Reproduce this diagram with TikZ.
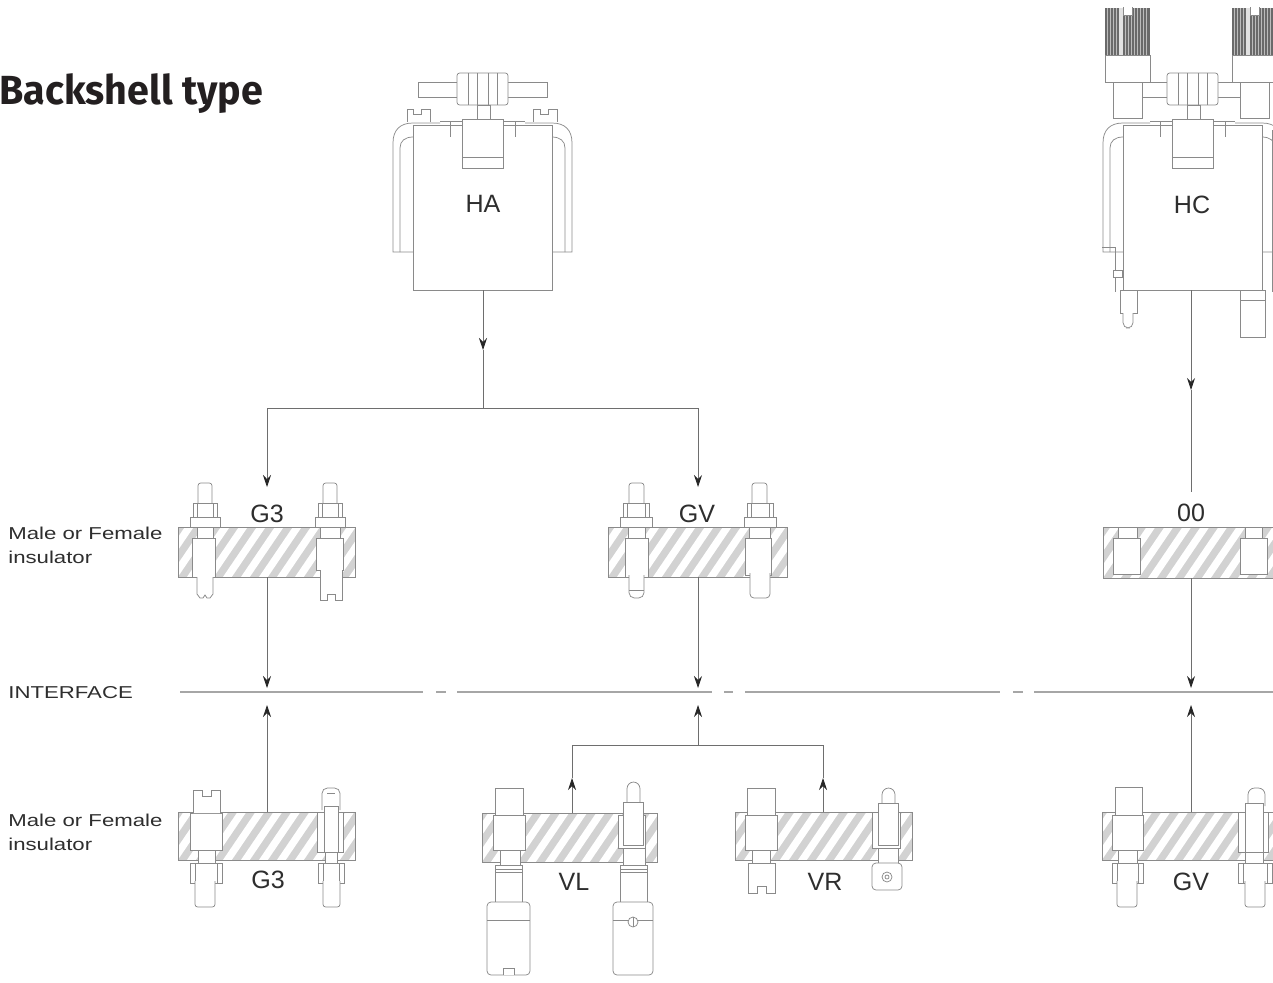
\documentclass[tikz,border=0pt]{standalone}
\usepackage{fontspec}
\setmainfont{Liberation Sans}
\newfontfamily\titlefont{Fira Sans}
\usetikzlibrary{arrows.meta}
\definecolor{ln}{HTML}{8A8A8A}
\definecolor{conn}{HTML}{6E6E6E}
\definecolor{tipc}{HTML}{262626}
\definecolor{hatchbg}{HTML}{D2D2D2}
\definecolor{txt}{HTML}{2E2E2E}
\definecolor{iface}{HTML}{A6A6A6}
\definecolor{knurl}{HTML}{6A6A6A}
\definecolor{ttl}{HTML}{231F20}
\tikzset{
  part/.style={draw=ln, line width=0.55pt, fill=white},
  pline/.style={draw=ln, line width=0.55pt},
  conline/.style={draw=conn, line width=0.6pt},
  arr/.style={conline, -{Stealth[length=9pt,width=6pt,inset=3pt,color=tipc]}},
  biglabel/.style={inner sep=0pt, anchor=base, text=txt, font=\fontsize{18.8pt}{22pt}\selectfont},
  smalllabel/.style={inner sep=0pt, text=txt, xscale=1.29, align=left, font=\fontsize{12.9pt}{18pt}\selectfont},
  ifline/.style={draw=iface, line width=1.5pt},
}
\newcommand\hatchblock[4]{%
  \begin{scope}
    \clip (#1,#2) rectangle (#3,#4);
    \fill[hatchbg] (#1,#2) rectangle (#3,#4);
    \foreach \k in {-60,-42,...,200} {\draw[white, line width=5.5pt] ({#1+\k},#4+2) -- ++(38,-56);}
  \end{scope}
  \draw[pline] (#1,#2) rectangle (#3,#4);
}
\newcommand\bscore{%
  % wings
  \draw[pline] (413,252) -- (393,252) -- (393,143) .. controls (393,130) and (400,123) .. (413,123) -- (440,123);
  \draw[pline] (400,252) -- (400,148) .. controls (400,141) and (405,137) .. (413,137);
  \draw[pline] (552,252) -- (572,252) -- (572,143) .. controls (572,130) and (565,123) .. (552,123) -- (525,123);
  \draw[pline] (565,252) -- (565,148) .. controls (565,141) and (560,137) .. (552,137);
  % body
  \draw[part] (413,125) rectangle (552,290);
  \draw[pline] (440,121) -- (462,121) (503,121) -- (525,121);
  \draw[pline] (450,121) -- (450,137) (515,121) -- (515,137);
  % clamp bar
  \draw[part] (418,82) rectangle (547,97);
  % knob
  \draw[part, rounded corners=2pt] (457,73) rectangle (508,105);
  \foreach \x in {468,477,488,497} {\draw[pline] (\x,73) -- (\x,105);}
  % neck and tab
  \draw[part] (477,105) rectangle (490,119);
  \draw[part] (462,119) rectangle (503,168);
  \draw[pline] (462,157) -- (503,157);
}
\begin{document}
\begin{tikzpicture}[x=0.75pt, y=-0.75pt]
\useasboundingbox (0,0) rectangle (1273,982);
\clip (0,0) rectangle (1273,982);

% ---------------- title and side labels
\node[anchor=base west, inner sep=0pt, text=ttl, xscale=0.97, font=\titlefont\bfseries\fontsize{30.5pt}{36pt}\selectfont] (title) at (-1,104) {Backshell type};
\node[smalllabel, anchor=north west] (mf1) at (8,527) {Male or Female\\insulator};
\node[smalllabel, anchor=north west] (mf2) at (8,814) {Male or Female\\insulator};
\node[smalllabel, anchor=base west] (iflabel) at (8,698) {INTERFACE};

% ---------------- HA backshell
\bscore
\draw[part] (407,122) -- (407,109) -- (413,109) -- (413,114) -- (421,114) -- (421,109) -- (430,109) -- (430,122);
\draw[part] (533,122) -- (533,109) -- (540,109) -- (540,114) -- (548,114) -- (548,109) -- (557,109) -- (557,122);
\node[biglabel] (HA) at (483,212) {HA};

% ---------------- HC backshell
\begin{scope}[shift={(710,0)}]
  \bscore
\end{scope}
\draw[pline] (1102,247) -- (1115,247) -- (1115,292);
\draw[pline] (1272,130) -- (1272,292);
\draw[part] (1113,270) rectangle (1122,277);
\draw[part] (1120,290) rectangle (1137,313);
\draw[part, rounded corners=4pt] (1123,313) -- (1123,328) -- (1133,328) -- (1133,313);
\draw[part] (1240,290) rectangle (1265,337);
\draw[pline] (1240,300) -- (1265,300);
% knobs
\foreach \cx in {1127.5,1254.5} {
  \draw[part] (\cx-14.5,82) rectangle (\cx+14.5,118);
  \draw[part] (\cx-22.5,55) rectangle (\cx+22.5,82);
  \fill[knurl] (\cx-22.5,8) rectangle (\cx+22.5,55);
  \foreach \d in {-20,-17,...,21} {\draw[white!55!knurl, line width=0.5pt] (\cx+\d,8) -- (\cx+\d,55);}
  \fill[white!80!knurl] (\cx-9,8) rectangle (\cx-5,55);
  \draw[part] (\cx-4.5,7) -- (\cx-4.5,15) -- (\cx+4.5,15) -- (\cx+4.5,7);
}
\node[biglabel] (HC) at (1192,213) {HC};

% ---------------- G3 top insulator
\hatchblock{178}{527}{355}{577}
\draw[part] (197,527) rectangle (213,538);
\draw[part] (192,538) rectangle (215,577);
\draw[part] (197,577) -- (197,594) -- (200,598) -- (203,598) -- (205,595) -- (207,598) -- (210,598) -- (213,594) -- (213,577);
\draw[part] (320,527) rectangle (340,538);
\draw[part] (316,538) rectangle (343,570);
\draw[part] (320,570) -- (320,600) -- (327,600) -- (327,594) -- (335,594) -- (335,600) -- (342,600) -- (342,570);
\draw[part, rounded corners=2pt] (198,505) -- (198,483) -- (212,483) -- (212,505);
\draw[part] (193,503) rectangle (217,517);
\draw[pline] (197,503) -- (197,517) (213,503) -- (213,517);
\draw[part] (190,517) rectangle (220,527);
\draw[part, rounded corners=2pt] (323,505) -- (323,483) -- (337,483) -- (337,505);
\draw[part] (318,503) rectangle (342,517);
\draw[pline] (322,503) -- (322,517) (338,503) -- (338,517);
\draw[part] (315,517) rectangle (345,527);
\node[biglabel] (G3t) at (267,522) {G3};

% ---------------- GV top insulator
\hatchblock{608}{527}{787}{577}
\draw[part] (628,527) rectangle (645,538);
\draw[part] (625,538) rectangle (648,577);
\draw[part, rounded corners=4pt] (629,575) -- (629,598) -- (644,598) -- (644,575);
\draw[pline] (629,590) -- (644,590);
\draw[part] (749,527) rectangle (770,538);
\draw[part] (745,538) rectangle (771,575);
\draw[part, rounded corners=3pt] (750,573) -- (750,598) -- (770,598) -- (770,573);
\draw[part, rounded corners=2pt] (629,505) -- (629,483) -- (644,483) -- (644,505);
\draw[part] (623,503) rectangle (649,517);
\draw[pline] (627,503) -- (627,517) (645,503) -- (645,517);
\draw[part] (620,517) rectangle (652,527);
\draw[part, rounded corners=2pt] (752,505) -- (752,483) -- (767,483) -- (767,505);
\draw[part] (747,503) rectangle (773,517);
\draw[pline] (751,503) -- (751,517) (769,503) -- (769,517);
\draw[part] (744,517) rectangle (776,527);
\node[biglabel] (GVt) at (697,522) {GV};

% ---------------- 00 insulator
\hatchblock{1103}{527}{1290}{578}
\draw[part] (1118,527) rectangle (1137,538);
\draw[part] (1113,538) rectangle (1140,574);
\draw[part] (1245,527) rectangle (1262,538);
\draw[part] (1240,538) rectangle (1267,574);
\node[biglabel] (O0) at (1191,521) {00};

% ---------------- G3 bottom insulator
\hatchblock{178}{812}{355}{860}
\draw[part] (190,813) rectangle (222,850);
\draw[part] (193,813) -- (193,790) -- (202,790) -- (202,796) -- (211,796) -- (211,790) -- (220,790) -- (220,813);
\draw[part] (198,850) rectangle (215,863);
\draw[part] (190,863) rectangle (222,883);
\draw[pline] (195,863) -- (195,883) (217,863) -- (217,883);
\draw[part, rounded corners=2pt] (195,881) -- (195,907) -- (215,907) -- (215,881);
\draw[part] (317,812) rectangle (343,852);
\draw[part, rounded corners=4pt] (322,810) -- (322,788) -- (340,788) -- (340,810);
\draw[pline] (327,793) -- (335,793);
\draw[part] (324,806) rectangle (338,852);
\draw[part] (325,852) rectangle (337,863);
\draw[part] (318,863) rectangle (344,883);
\draw[pline] (323,863) -- (323,883) (339,863) -- (339,883);
\draw[part, rounded corners=2pt] (323,881) -- (323,907) -- (340,907) -- (340,881);
\node[biglabel] (G3b) at (268,888) {G3};

% ---------------- VL insulator
\hatchblock{482}{813}{657}{862}
\draw[part] (493,815) rectangle (525,850);
\draw[part] (495,788) rectangle (523,815);
\draw[part] (500,850) rectangle (520,865);
\draw[part] (495,865) rectangle (522,902);
\draw[pline] (495,869) -- (522,869) (495,872) -- (522,872);
\draw[part, rounded corners=3pt] (487,902) -- (487,975) -- (530,975) -- (530,902) -- cycle;
\draw[pline] (487,920) -- (530,920);
\draw[part] (503,975) -- (503,968) -- (514,968) -- (514,975);
\draw[part] (618,815) rectangle (645,848);
\draw[part, rounded corners=5pt] (627,805) -- (627,782) -- (640,782) -- (640,805);
\draw[part] (623,802) rectangle (643,845);
\draw[part] (623,848) rectangle (645,865);
\draw[part] (620,865) rectangle (647,902);
\draw[pline] (620,869) -- (647,869) (620,872) -- (647,872);
\draw[part, rounded corners=3pt] (613,902) -- (613,975) -- (653,975) -- (653,902) -- cycle;
\draw[pline] (613,920) -- (653,920);
\draw[part] (633,922) circle (5);
\draw[pline] (633,917) -- (633,927);
\node[biglabel] (VL) at (574,890) {VL};

% ---------------- VR insulator
\hatchblock{735}{812}{912}{860}
\draw[part] (745,815) rectangle (777,850);
\draw[part] (747,788) rectangle (775,815);
\draw[part] (752,850) rectangle (770,863);
\draw[part] (748,863) -- (748,893) -- (757,893) -- (757,886) -- (766,886) -- (766,893) -- (775,893) -- (775,863) -- cycle;
\draw[part] (872,812) rectangle (900,848);
\draw[part, rounded corners=5pt] (882,806) -- (882,788) -- (895,788) -- (895,806);
\draw[part] (878,803) rectangle (898,845);
\draw[part] (878,848) rectangle (898,863);
\draw[part, rounded corners=3pt] (872,863) -- (872,890) -- (902,890) -- (902,863) -- cycle;
\draw[part] (887,877) circle (5);
\draw[pline] (887,877) circle (2);
\node[biglabel] (VR) at (825,890) {VR};

% ---------------- GV bottom insulator
\hatchblock{1102}{812}{1290}{860}
\draw[part] (1112,815) rectangle (1143,850);
\draw[part] (1115,787) rectangle (1142,815);
\draw[part] (1118,850) rectangle (1137,863);
\draw[part] (1112,863) rectangle (1143,883);
\draw[pline] (1117,863) -- (1117,883) (1138,863) -- (1138,883);
\draw[part, rounded corners=2pt] (1117,881) -- (1117,907) -- (1137,907) -- (1137,881);
\draw[part] (1238,812) rectangle (1268,852);
\draw[part, rounded corners=5pt] (1248,806) -- (1248,788) -- (1265,788) -- (1265,806);
\draw[part] (1245,803) rectangle (1263,852);
\draw[part] (1245,852) rectangle (1263,863);
\draw[part] (1238,863) rectangle (1272,883);
\draw[pline] (1243,863) -- (1243,883) (1267,863) -- (1267,883);
\draw[part, rounded corners=2pt] (1245,881) -- (1245,907) -- (1265,907) -- (1265,881);
\node[biglabel] (GVb) at (1191,890) {GV};

% ---------------- interface line
\draw[ifline] (180,692) -- (423,692) (436,692) -- (446,692) (457,692) -- (712,692)
  (724,692) -- (733,692) (745,692) -- (1000,692) (1013,692) -- (1023,692) (1034,692) -- (1273,692);

% ---------------- connector points
\coordinate (haout) at (483,290);
\coordinate (hatip) at (483,350);
\coordinate (hajct) at (483,408);
\coordinate (g3in) at (267,408);
\coordinate (g3tip) at (267,487);
\coordinate (gvin) at (698,408);
\coordinate (gvtip) at (698,487);
\coordinate (g3out) at (267,577);
\coordinate (g3dn) at (267,688);
\coordinate (gvout) at (698,577);
\coordinate (gvdn) at (698,688);
\coordinate (hcout) at (1191,290);
\coordinate (hctip) at (1191,390);
\coordinate (hcend) at (1191,492);
\coordinate (oout) at (1191,578);
\coordinate (odn) at (1191,688);
\coordinate (g3bin) at (267,812);
\coordinate (g3up) at (267,705);
\coordinate (vjct) at (698,745);
\coordinate (gvup) at (698,705);
\coordinate (vlj) at (572,745);
\coordinate (vlin) at (572,813);
\coordinate (vltip) at (572,778);
\coordinate (vrj) at (823,745);
\coordinate (vrin) at (823,812);
\coordinate (vrtip) at (823,778);
\coordinate (gvbin) at (1191,812);
\coordinate (gvbup) at (1191,705);

% ---------------- connectors
\draw[arr] (haout) -- (hatip);
\draw[conline] (hatip) -- (hajct);
\draw[conline] (g3in) -- (gvin);
\draw[arr] (g3in) -- (g3tip);
\draw[arr] (gvin) -- (gvtip);
\draw[arr] (g3out) -- (g3dn);
\draw[arr] (gvout) -- (gvdn);
\draw[arr] (hcout) -- (hctip);
\draw[conline] (hctip) -- (hcend);
\draw[arr] (oout) -- (odn);
\draw[arr] (g3bin) -- (g3up);
\draw[arr] (vjct) -- (gvup);
\draw[conline] (vlj) -- (vrj);
\draw[arr] (vlin) -- (vltip);
\draw[conline] (vltip) -- (vlj);
\draw[arr] (vrin) -- (vrtip);
\draw[conline] (vrtip) -- (vrj);
\draw[arr] (gvbin) -- (gvbup);
\end{tikzpicture}
\end{document}
